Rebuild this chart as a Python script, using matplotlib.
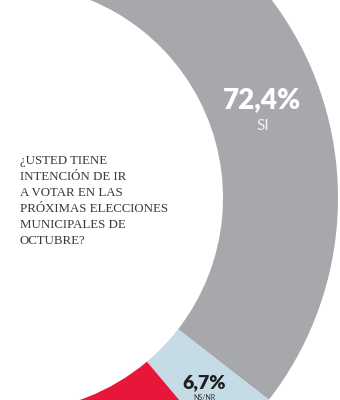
import matplotlib
matplotlib.use("Agg")
import matplotlib.pyplot as plt

labels = ["SI", "NS/NR", "NO"]
values = [72.4, 6.7, 20.9]
colors = ["#a7a8ac", "#c5dce7", "#e8173a"]
question = "¿USTED TIENE\nINTENCIÓN DE IR\nA VOTAR EN LAS\nPRÓXIMAS ELECCIONES\nMUNICIPALES DE\nOCTUBRE?"

fig = plt.figure(figsize=(3.4, 4.0), dpi=100)
ax = fig.add_axes([0, 0, 1, 1])

# half donut: add invisible remainder equal to total
total = sum(values)
wedges, _ = ax.pie(values + [total], colors=colors + ["none"], startangle=92.5,
                   counterclock=False, center=(9, 202), radius=329,
                   wedgeprops=dict(width=115, linewidth=0))
ax.set_xlim(0, 340)
ax.set_ylim(0, 400)
ax.set_aspect("equal")
ax.axis("off")

ax.text(262, 300, f"{values[0]:.1f}%".replace(".", ","), color="white",
        fontsize=20, fontweight="heavy", family="Lato", ha="center", va="center")
ax.text(263, 274, labels[0], color="#f2f2f2", fontsize=11, family="Lato",
        ha="center", va="center")

ax.text(204, 17, f"{values[1]:.1f}%".replace(".", ","), color="#1e1e1e",
        fontsize=14, fontweight="heavy", family="Lato", ha="center", va="center")
ax.text(204, 2, labels[1], color="#333333", fontsize=5, family="Lato",
        ha="center", va="center")

ax.text(20, 245, question, color="#3a3a3a", fontsize=9.3,
        family="Liberation Serif", ha="left", va="top", linespacing=1.45)

fig.savefig("out.png", dpi=100)
